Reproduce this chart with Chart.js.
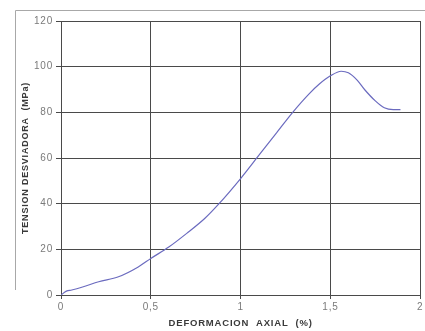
<!DOCTYPE html>
<html>
<head>
<meta charset="utf-8">
<script src="https://cdn.jsdelivr.net/npm/chart.js@4/dist/chart.umd.min.js"></script>
<style>
  html, body { margin: 0; padding: 0; background: #ffffff; }
  #wrap { width: 425px; height: 331px; position: relative; }
</style>
</head>
<body>
<div id="wrap"><canvas id="c" width="425" height="331"></canvas></div>
<script>
// Axial strain (%) and deviator stress (MPa) of the test
const strain = [0, 0.03, 0.06, 0.12, 0.21, 0.32, 0.43, 0.50, 0.60, 0.70, 0.80, 0.88, 1.00, 1.10, 1.20, 1.29, 1.38, 1.44, 1.50, 1.56, 1.60, 1.65, 1.69, 1.75, 1.80, 1.85, 1.89];
const stress = [0, 1.7, 2.2, 3.5, 5.8, 8.0, 12.3, 16.0, 21.0, 27.0, 33.5, 40.0, 51.0, 61.0, 71.0, 80.0, 88.0, 92.5, 96.0, 98.0, 97.3, 94.0, 90.0, 85.0, 82.0, 81.2, 81.2];

// Axis ranges and tick steps
const xTicks = [0, 0.5, 1, 1.5, 2];
const yTicks = [0, 20, 40, 60, 80, 100, 120];

const xTitle = 'DEFORMACION  AXIAL  (%)';
const yTitle = 'TENSION DESVIADORA  (MPa)';

const points = strain.map((x, i) => ({ x: x, y: stress[i] }));

// Thin page frame behind the chart, and slightly spaced lettering
const framePlugin = {
  id: 'frame',
  beforeDraw(chart) {
    const ctx = chart.ctx;
    ctx.save();
    ctx.strokeStyle = '#a8a8a8';
    ctx.lineWidth = 1;
    ctx.beginPath();
    ctx.moveTo(15.5, 290);
    ctx.lineTo(15.5, 10.5);
    ctx.lineTo(425, 10.5);
    ctx.stroke();
    ctx.restore();
    ctx.letterSpacing = '0.8px';
  },
  afterDraw(chart) {
    chart.ctx.letterSpacing = '0px';
  }
};

new Chart(document.getElementById('c'), {
  type: 'scatter',
  data: {
    datasets: [{
      data: points,
      showLine: true,
      borderColor: '#6b6bbf',
      borderWidth: 1.2,
      pointRadius: 0,
      cubicInterpolationMode: 'monotone',
      fill: false
    }]
  },
  options: {
    responsive: false,
    animation: false,
    devicePixelRatio: 1,
    layout: { padding: { top: 21, right: 2, bottom: 0, left: 0 } },
    plugins: { legend: { display: false }, tooltip: { enabled: false } },
    scales: {
      x: {
        type: 'linear',
        min: xTicks[0],
        max: xTicks[xTicks.length - 1],
        afterBuildTicks(scale) { scale.ticks = xTicks.map(v => ({ value: v })); },
        afterFit(scale) { scale.height = 36; },
        grid: { color: '#4a4a4a', lineWidth: 1, tickLength: 4, drawTicks: true },
        border: { color: '#4a4a4a', width: 1 },
        ticks: {
          padding: 2,
          maxRotation: 0,
          color: '#7a7a7a',
          font: { family: 'Liberation Sans', size: 10 },
          callback: v => String(v).replace('.', ',')
        },
        title: {
          display: true,
          text: xTitle,
          color: '#3a3a3a',
          font: { family: 'Liberation Sans', size: 9.5, weight: 'bold' },
          padding: { top: 0, bottom: 2 }
        }
      },
      y: {
        type: 'linear',
        min: yTicks[0],
        max: yTicks[yTicks.length - 1],
        afterBuildTicks(scale) { scale.ticks = yTicks.map(v => ({ value: v })); },
        afterFit(scale) { scale.width = 61; },
        grid: { color: '#4a4a4a', lineWidth: 1, tickLength: 5, drawTicks: true },
        border: { color: '#4a4a4a', width: 1 },
        ticks: {
          padding: 3,
          color: '#7a7a7a',
          font: { family: 'Liberation Sans', size: 10 }
        },
        title: {
          display: true,
          text: yTitle,
          color: '#3a3a3a',
          font: { family: 'Liberation Sans', size: 9, weight: 'bold' },
          padding: { top: 20, bottom: 0 }
        }
      }
    }
  },
  plugins: [framePlugin]
});
</script>
</body>
</html>
